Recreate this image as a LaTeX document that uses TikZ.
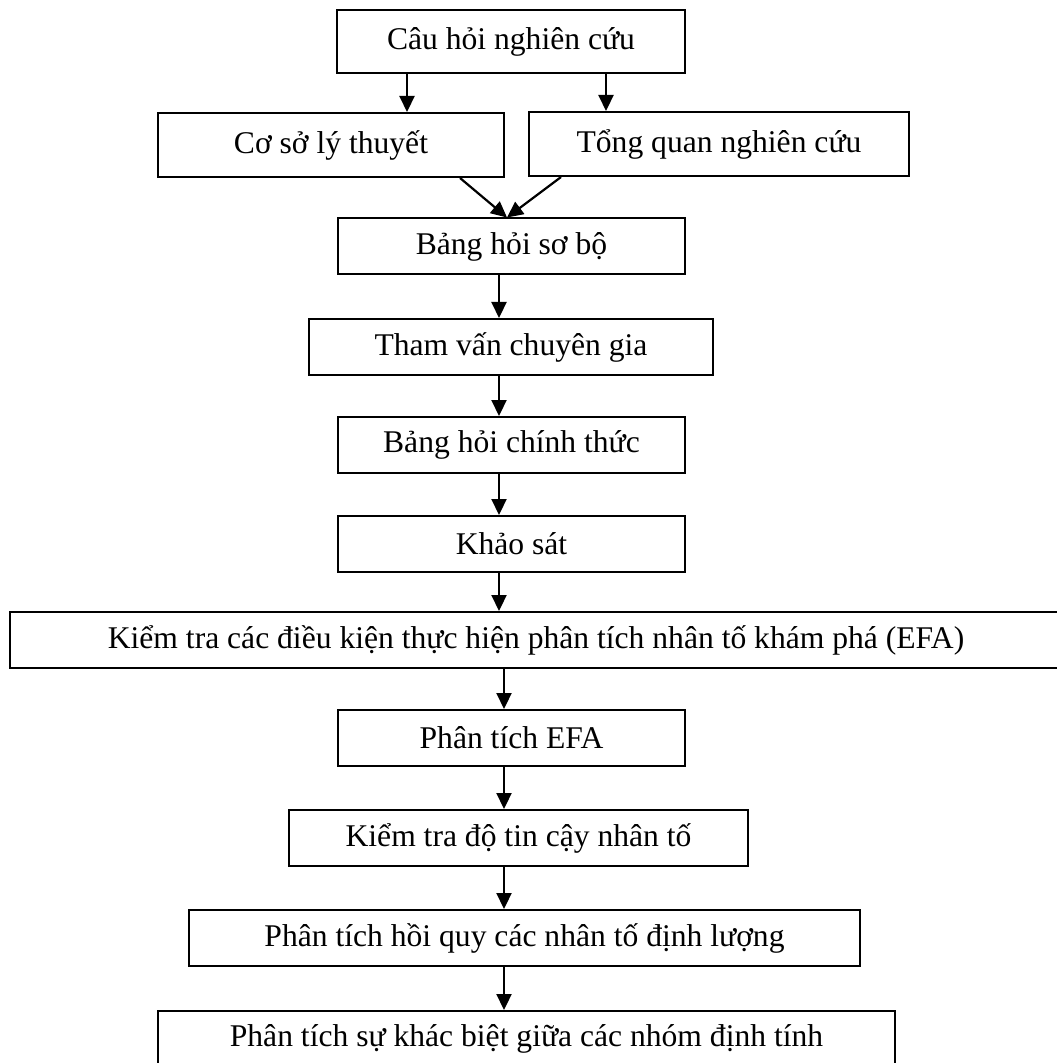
\documentclass[tikz,border=0pt]{standalone}
\usepackage{fontspec}
\setmainfont{Liberation Serif}
\usetikzlibrary{arrows.meta}
\tikzset{
  stepbox/.style={draw=black,line width=1pt,fill=white,inner sep=0pt,align=center,
    font=\fontsize{15.8}{18}\selectfont},
  arrow/.style={-{Triangle[length=8pt,width=7.5pt]},line width=1.1pt,draw=black}
}

\begin{document}
\begin{tikzpicture}[x=0.5pt,y=-0.5pt,
    box/.style={stepbox,minimum height=28pt}]
  \useasboundingbox (0,0) rectangle (1056,1063);

  % top block
  \node[box,minimum width=174pt,minimum height=31.5pt] (q) at (511,41.5) {Câu hỏi nghiên cứu};
  \node[box,minimum width=173pt,minimum height=32pt] (lt) at (331,145) {Cơ sở lý thuyết};
  \node[box,minimum width=190pt,minimum height=32pt] (tq) at (719,144) {Tổng quan nghiên cứu};
  \node[box,minimum width=173.5pt] (sb) at (511.5,246.5) {Bảng hỏi sơ bộ};
  \node[box,minimum width=202pt] (tv) at (511,347) {Tham vấn chuyên gia};
  \node[box,minimum width=173.5pt] (ct) at (511.5,445) {Bảng hỏi chính thức};
  \node[box,minimum width=173.5pt] (ks) at (511.5,544) {Khảo sát};

  % analysis block
  \node[box,minimum width=526pt] (kt) at (536,640) {Kiểm tra các điều kiện thực hiện phân tích nhân tố khám phá (EFA)};
  \node[box,minimum width=173.5pt] (efa) at (511.5,738) {Phân tích EFA};
  \node[box,minimum width=229.5pt] (tc) at (518.5,838) {Kiểm tra độ tin cậy nhân tố};
  \node[box,minimum width=335.5pt] (hq) at (524.5,938) {Phân tích hồi quy các nhân tố định lượng};
  \node[box,minimum width=368.5pt] (kb) at (526.5,1039) {Phân tích sự khác biệt giữa các nhóm định tính};

  \coordinate (sp1) at (499,0);
  \coordinate (sp2) at (504,0);
  \coordinate (join) at (507,0);

  \draw[arrow] (q.south -| 407,0) -- (lt.north -| 407,0);
  \draw[arrow] (q.south -| 606,0) -- (tq.north -| 606,0);
  \draw[arrow] (lt.south -| 460,0) -- (sb.north -| join);
  \draw[arrow] (tq.south -| 561,0) -- (sb.north -| join);

  \foreach \a/\b in {sb/tv,tv/ct,ct/ks,ks/kt}
    \draw[arrow] (\a.south -| sp1) -- (\b.north -| sp1);
  \foreach \a/\b in {kt/efa,efa/tc,tc/hq,hq/kb}
    \draw[arrow] (\a.south -| sp2) -- (\b.north -| sp2);
\end{tikzpicture}
\end{document}
